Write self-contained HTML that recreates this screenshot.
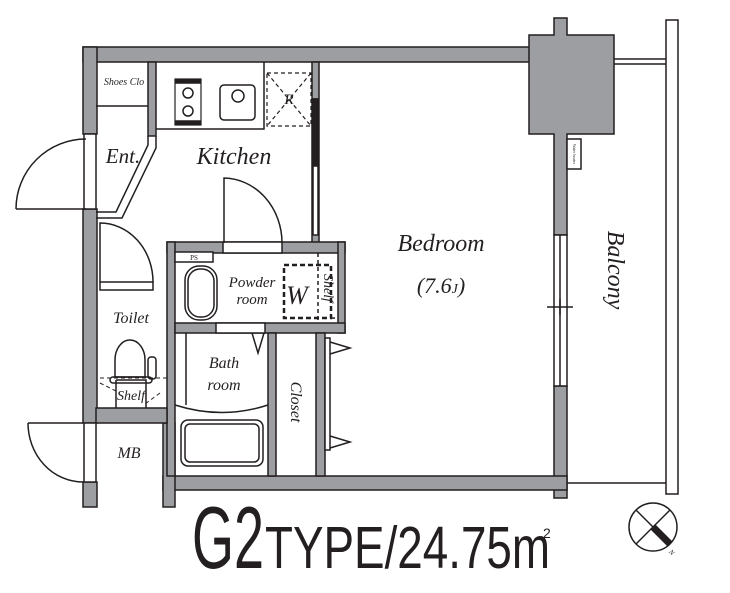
<!DOCTYPE html>
<html><head><meta charset="utf-8"><style>body{margin:0;background:#fff}svg{display:block}</style></head><body>
<svg width="730" height="593" viewBox="0 0 730 593" xmlns="http://www.w3.org/2000/svg">
<g fill="#9d9ea1" stroke="#231f20" stroke-width="1.5">
<rect x="83" y="47" width="448" height="15"/>
<path d="M529 35 H554 V18 H567 V35 H614 V134 H567 V235 H554 V134 H529 Z"/>
<rect x="554" y="386" width="13" height="112"/>
<rect x="163" y="476" width="404" height="14"/>
<rect x="83" y="47" width="14" height="87"/>
<rect x="83" y="209" width="14" height="214"/>
<rect x="83" y="482" width="14" height="25"/>
<rect x="163" y="423" width="12" height="84"/>
<rect x="148" y="62" width="8" height="74"/>
<rect x="312" y="62" width="7" height="181"/>
<rect x="167" y="242" width="178" height="11"/>
<rect x="167" y="242" width="8" height="234"/>
<rect x="338" y="242" width="7" height="91"/>
<rect x="175" y="323" width="170" height="10"/>
<rect x="268" y="333" width="8" height="143"/>
<rect x="316" y="333" width="9" height="143"/>
<rect x="96" y="408" width="71" height="15"/>
</g>
<g fill="#fff" stroke="#231f20" stroke-width="1.5">
<rect x="223" y="242" width="59" height="11"/>
<rect x="216" y="323" width="49" height="10"/>
<rect x="100" y="282" width="53" height="8"/>
<rect x="84" y="134" width="12" height="75"/>
<rect x="84" y="423" width="12" height="59"/>
<rect x="554" y="235" width="13" height="151"/>
<rect x="325" y="338" width="5" height="112"/>
<rect x="313" y="99" width="5" height="136"/>
<rect x="666" y="20" width="12" height="474"/>
<rect x="567" y="139" width="14" height="30"/>
</g>
<g fill="none" stroke="#231f20" stroke-width="1.5">
<line x1="560" y1="235" x2="560" y2="386"/>
<line x1="547" y1="307" x2="573" y2="307"/><line x1="560" y1="299" x2="560" y2="315"/>
<line x1="614" y1="59" x2="666" y2="59"/><line x1="614" y1="64" x2="666" y2="64"/>
<line x1="567" y1="483" x2="666" y2="483"/>
<line x1="96" y1="106" x2="148" y2="106"/>
<path d="M148 136 V145 L116 212 H96 M156 136 V148 L122 218 H96"/>
<path d="M156 129 H264 V62"/>
<rect x="175" y="79" width="26" height="46" stroke-width="1.2"/>
<rect x="176" y="80" width="24" height="3" fill="#231f20"/><rect x="176" y="121" width="24" height="3" fill="#231f20"/>
<circle cx="188" cy="93" r="5"/><circle cx="188" cy="111" r="5"/>
<rect x="220" y="85" width="35" height="35" rx="4"/>
<circle cx="238" cy="96" r="6"/>
<g stroke-dasharray="4 3" stroke-width="1.2"><rect x="267" y="73" width="44" height="53"/><path d="M267 73 L311 126 M311 73 L267 126"/></g>
<rect x="313" y="99" width="5" height="67" fill="#231f20"/>
<path d="M16 209 H86 M86 139 A70 70 0 0 0 16 209"/>
<path d="M224 243 V178 A59 65 0 0 1 282 243"/>
<path d="M100 282 V223 A53 59 0 0 1 153 282"/>
<path d="M28 423 H83 M28 423 A55 59 0 0 0 83 482"/>
<rect x="175" y="252" width="38" height="10" fill="#fff"/>
<rect x="185" y="266" width="32" height="54" rx="14"/>
<rect x="188" y="269" width="26" height="48" rx="12"/>
<g stroke-dasharray="5 3" stroke-width="2.5"><rect x="284" y="265" width="47" height="53"/></g>
<g stroke-dasharray="4 3" stroke-width="1.5"><line x1="318" y1="253" x2="318" y2="323"/><line x1="331" y1="318" x2="338" y2="318"/></g>
<path d="M186 333 V405 M175 405 Q222 420 268 405"/>
<path d="M252 333 L258 353 L264 333"/>
<rect x="181" y="420" width="82" height="46" rx="7"/>
<rect x="185" y="424" width="74" height="38" rx="5"/>
<path d="M330 342 L350 348 L330 354 M330 436 L350 442 L330 448"/>
<path d="M115 377 V360 A15 20 0 0 1 145 360 V377 Z"/>
<rect x="148" y="357" width="8" height="22" rx="3"/>
<path d="M116 380 H146 V408 M116 380 V408"/>
<rect x="110" y="377" width="42" height="6" rx="3"/>
<path d="M100 378 H167 M100 383 L120 393 M160 393 L145 404" stroke-dasharray="4 3" stroke-width="1"/>
<circle cx="653" cy="527" r="24"/>
<path d="M636 510 L670 544 M670 510 L636 544"/>
<path d="M653 527 L670 544" stroke-width="7"/>
</g>
<g font-family="'Liberation Serif',serif" font-style="italic" fill="#231f20" text-anchor="middle">
<text x="124" y="85" font-size="10">Shoes Clo</text>
<text x="289" y="104" font-size="15">R</text>
<text x="123" y="163" font-size="21">Ent.</text>
<text x="234" y="164" font-size="24">Kitchen</text>
<text x="441" y="251" font-size="24">Bedroom</text>
<text x="441" y="293" font-size="22">(7.6<tspan font-size="14">J</tspan>)</text>
<text x="0" y="0" font-size="24" transform="translate(608 270) rotate(90)">Balcony</text>
<text x="194" y="260" font-size="7" font-style="normal">PS</text>
<text x="252" y="287" font-size="15">Powder</text>
<text x="252" y="304" font-size="15">room</text>
<text x="297" y="304" font-size="26">W</text>
<text x="0" y="0" font-size="14" transform="translate(324 288) rotate(90)">Shelf</text>
<text x="131" y="323" font-size="16">Toilet</text>
<text x="131" y="400" font-size="14">Shelf</text>
<text x="224" y="368" font-size="16">Bath</text>
<text x="224" y="390" font-size="16">room</text>
<text x="0" y="0" font-size="16" transform="translate(291 402) rotate(90)">Closet</text>
<text x="129" y="458" font-size="16">MB</text>
<text x="0" y="0" font-size="4" font-style="normal" transform="translate(573 154) rotate(90)">Water heater</text>
<text x="0" y="0" font-size="7" transform="translate(670 554) rotate(45)">N</text>
</g>
<g font-family="'Liberation Sans Narrow','Liberation Sans',sans-serif" fill="#231f20">
<text x="192" y="568" font-size="88" textLength="72" lengthAdjust="spacingAndGlyphs">G2</text>
<text x="265" y="568" font-size="59" textLength="285" lengthAdjust="spacingAndGlyphs">TYPE/24.75m</text>
<text x="543" y="538" font-size="14">2</text>
</g>
</svg>
</body></html>
